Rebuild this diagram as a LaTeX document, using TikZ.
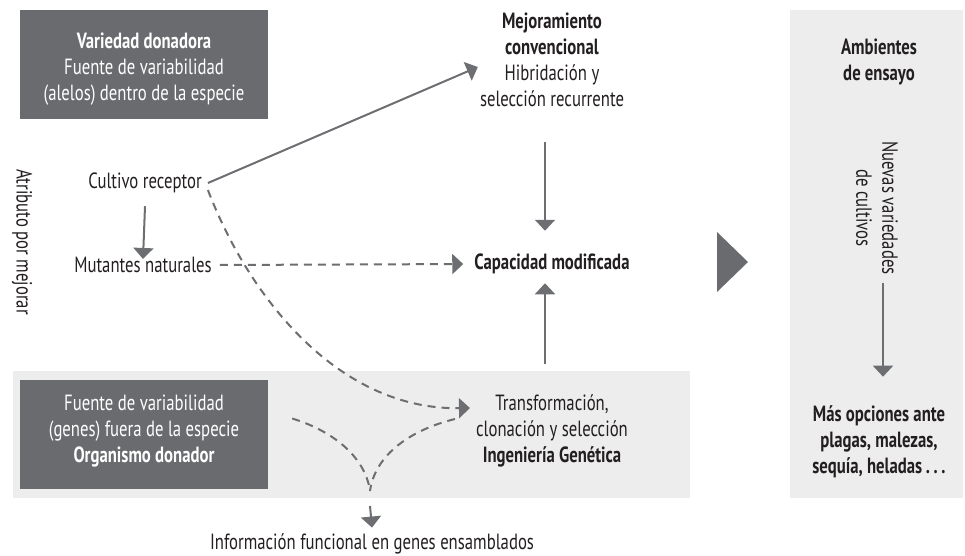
\documentclass[tikz,border=0pt]{standalone}
\usepackage{fontspec}
\setmainfont{PT Sans}[FakeStretch=0.76]
\usetikzlibrary{arrows.meta,calc}
\definecolor{darkbox}{HTML}{6A6B6E}
\definecolor{lightbox}{HTML}{EDEDED}
\definecolor{arrowc}{HTML}{6D6E71}
\definecolor{txt}{HTML}{231F20}
\begin{document}
\begin{tikzpicture}[x=1pt,y=-1pt,
 every node/.style={font=\fontsize{22}{26}\selectfont, text=txt, align=center, inner sep=4pt},
 darkrect/.style={fill=darkbox, inner sep=0pt, minimum width=248pt, minimum height=109pt},
 arr/.style={draw=arrowc, line width=2pt, -{Triangle[length=11pt,width=20pt]}},
 dsh/.style={draw=arrowc, line width=2pt, dash pattern=on 8pt off 6pt},
 wtext/.style={text=white}]
\useasboundingbox (0,0) rectangle (965,555);
% backgrounds
\node[fill=lightbox, inner sep=0pt, minimum width=677pt, minimum height=127pt] (band) at (351.5,434.5) {};
\node[fill=lightbox, inner sep=0pt, minimum width=173pt, minimum height=488pt] (rightcol) at (876.5,254) {};
\node[darkrect] (donorbox) at (144,64.5) {};
\node[darkrect] (organbox) at (144,434.5) {};
% texts
\node[wtext] (donortext) at (144,69) {\textbf{Variedad donadora}\\Fuente de variabilidad\\(alelos) dentro de la especie};
\node[wtext] (organtext) at (144,431) {Fuente de variabilidad\\(genes) fuera de la especie\\\textbf{Organismo donador}};
\node[rotate=-90] (atrib) at (22,242) {Atributo por mejorar};
\node (culti) at (145,183) {Cultivo receptor};
\node (mut) at (143,265) {Mutantes naturales};
\node (mejora) at (552,60) {\textbf{Mejoramiento}\\\textbf{convencional}\\Hibridación y\\selección recurrente};
\node (cap) at (552,264) {\textbf{Capacidad modificada}};
\node (trans) at (552,431) {Transformación,\\clonación y selección\\\textbf{Ingeniería Genética}};
\node (info) at (372,544) {Información funcional en genes ensamblados};
\node (amb) at (879,62) {\textbf{Ambientes}\\\textbf{de ensayo}};
\node[rotate=-90] (nuevas) at (877,208) {Nuevas variedades\\de cultivos};
\node (mas) at (879,442) {\textbf{Más opciones ante}\\\textbf{plagas, malezas,}\\\textbf{sequía, heladas\,.\,.\,.}};
% big arrow
\fill[darkbox] (717,232) -- (748,262) -- (717,292) -- cycle;
% connectors
\draw[arr] ($(culti.east)+(2,0)$) -- ($(mejora.west)+(2,7)$);
\draw[arr] ($(culti.south)+(0,9)$) -- ($(mut.north)+(0,6)$);
\draw[dsh, -{Triangle[length=11pt,width=20pt]}, shorten <=4pt, shorten >=7pt] (mut.east) -- (cap.west);
\draw[arr] ($(mejora.south)+(-7,31)$) -- ($(cap.north)+(-7,-19)$);
\draw[arr] ($(trans.north)+(-7,-27)$) -- ($(cap.south)+(-7,5)$);
\draw[dsh, -{Triangle[length=11pt,width=20pt]}] ($(culti.east)+(2,7)$) .. controls (250,300) and (340,410) .. ($(trans.west)+(-2,-23)$);
\coordinate (merge) at (370,491);
\draw[dsh] ($(organbox.east)+(24,-16)$) .. controls (330,430) and (365,455) .. (merge);
\draw[dsh] ($(trans.west)+(-17,-12)$) .. controls (410,430) and (375,455) .. (merge);
\draw[arr] ($(merge)+(0,15)$) -- ($(info.north)+(0,-2)$);
\draw[arr] ($(nuevas.east)+(6,4)$) -- ($(mas.north)+(4,-25)$);
\end{tikzpicture}
\end{document}
